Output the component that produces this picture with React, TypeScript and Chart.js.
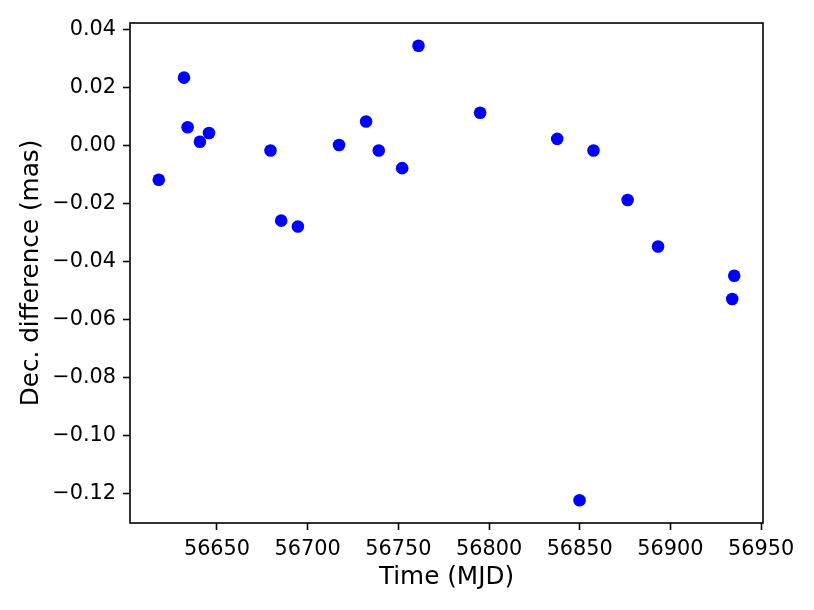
import React, { useEffect, useRef } from "react";
import { Chart, registerables } from "chart.js";

Chart.register(...registerables);

const mjd = [56617.9, 56631.8, 56633.8, 56640.6, 56645.6, 56679.5, 56685.4, 56694.6, 56717.3, 56732.2, 56739.2, 56752.1, 56761.1, 56795.1, 56837.6, 56849.9, 56857.6, 56876.4, 56893.2, 56934.1, 56935.2];
const decDiff = [-0.0118, 0.0234, 0.0063, 0.0013, 0.0043, -0.0017, -0.0259, -0.0279, 0.0002, 0.0083, -0.0017, -0.0078, 0.0344, 0.0113, 0.0023, -0.1223, -0.0017, -0.0188, -0.0348, -0.0529, -0.0449];
const xTicks = [56650, 56700, 56750, 56800, 56850, 56900, 56950];
const yTicks = [-0.12, -0.1, -0.08, -0.06, -0.04, -0.02, 0, 0.02, 0.04];
const xLabel = "Time (MJD)";
const yLabel = "Dec. difference (mas)";

function margins(values: number[]) {
  const lo = Math.min(...values);
  const hi = Math.max(...values);
  const pad = (hi - lo) * 0.05;
  return { min: lo - pad, max: hi + pad };
}

const FONT = "'DejaVu Sans', sans-serif";

export default function App() {
  const ref = useRef<HTMLCanvasElement | null>(null);
  useEffect(() => {
    if (!ref.current) return;
    const xr = margins(mjd);
    const yr = margins(decDiff);
    const spines = {
      id: "spines",
      afterDraw(chart: any) {
        const { ctx, chartArea } = chart;
        ctx.save();
        ctx.strokeStyle = "#000";
        ctx.lineWidth = 1.6;
        ctx.strokeRect(chartArea.left, chartArea.top, chartArea.right - chartArea.left, chartArea.bottom - chartArea.top);
        ctx.restore();
      },
    };
    const chart = new Chart(ref.current, {
      type: "scatter",
      data: {
        datasets: [
          {
            data: mjd.map((x, i) => ({ x, y: decDiff[i] })),
            backgroundColor: "#0000ff",
            borderColor: "#0000ff",
            borderWidth: 0,
            pointRadius: 6.3,
            pointHoverRadius: 6.3,
          },
        ],
      },
      options: {
        responsive: false,
        animation: false,
        events: [],
        layout: { padding: { top: 23, right: 51, left: 0, bottom: 0 } },
        plugins: { legend: { display: false }, tooltip: { enabled: false } },
        scales: {
          x: {
            type: "linear",
            min: xr.min,
            max: xr.max,
            afterFit(scale: any) {
              scale.height = 87;
            },
            afterBuildTicks(scale: any) {
              scale.ticks = xTicks.map((v) => ({ value: v }));
            },
            grid: { display: true, drawOnChartArea: false, drawTicks: true, tickLength: 7, tickWidth: 1.6, tickColor: "#000" },
            border: { display: false },
            ticks: {
              color: "#000",
              padding: 7,
              maxRotation: 0,
              autoSkip: false,
              font: { family: FONT, size: 20.8 },
              callback: (v: any) => String(v),
            },
            title: {
              display: true,
              text: xLabel,
              color: "#000",
              font: { family: FONT, size: 24.7 },
              padding: { top: 0, bottom: 18 },
            },
          },
          y: {
            type: "linear",
            min: yr.min,
            max: yr.max,
            afterFit(scale: any) {
              scale.width = 130;
            },
            afterBuildTicks(scale: any) {
              scale.ticks = yTicks.map((v) => ({ value: v }));
            },
            grid: { display: true, drawOnChartArea: false, drawTicks: true, tickLength: 7, tickWidth: 1.6, tickColor: "#000" },
            border: { display: false },
            ticks: {
              color: "#000",
              padding: 7,
              autoSkip: false,
              font: { family: FONT, size: 20.8 },
              callback: (v: any) => {
                const n = Number(v);
                const s = Math.abs(n).toFixed(2);
                return n < -1e-9 ? "\u2212" + s : s;
              },
            },
            title: {
              display: true,
              text: yLabel,
              color: "#000",
              font: { family: FONT, size: 24.7 },
              padding: { top: 16.5, bottom: 0 },
            },
          },
        },
      },
      plugins: [spines],
    });
    return () => chart.destroy();
  }, []);
  return (
    <div style={{ position: "absolute", left: 0, top: 0, width: 814, height: 610, background: "#fff" }}>
      <canvas ref={ref} width={814} height={610} />
    </div>
  );
}
